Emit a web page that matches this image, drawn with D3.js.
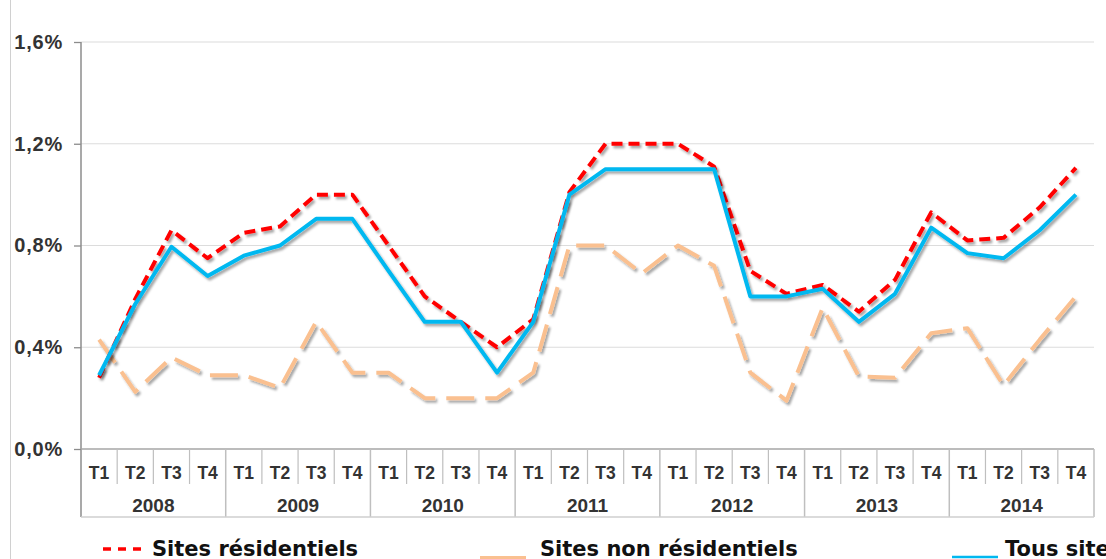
<!DOCTYPE html>
<html>
<head>
<meta charset="utf-8">
<script src="https://cdn.jsdelivr.net/npm/d3@7"></script>
<style>
  body { margin: 0; background: #fff; }
  text { font-family: "Liberation Sans", Arial, sans-serif; font-weight: bold; fill: #333; }
  .legend text { font-family: "DejaVu Sans", Verdana, sans-serif; fill: #111; }
</style>
</head>
<body>
<div id="chart"></div>
<script>
var quarters = ["T1", "T2", "T3", "T4"];
var years = ["2008", "2009", "2010", "2011", "2012", "2013", "2014"];
var yTicks = [0, 0.4, 0.8, 1.2, 1.6];

// values in %
var residentiels = [
  0.28, 0.59, 0.86, 0.75,
  0.85, 0.875, 1.00, 1.00,
  0.80, 0.60, 0.50, 0.40,
  0.51, 1.01, 1.20, 1.20,
  1.20, 1.11, 0.70, 0.61,
  0.645, 0.54, 0.665, 0.93,
  0.82, 0.83, 0.95, 1.105
];
var nonResidentiels = [
  0.43, 0.225, 0.36, 0.29,
  0.29, 0.24, 0.50, 0.30,
  0.30, 0.20, 0.20, 0.20,
  0.30, 0.80, 0.80, 0.69,
  0.80, 0.72, 0.30, 0.19,
  0.555, 0.285, 0.28, 0.455,
  0.475, 0.25, 0.43, 0.60
];
var tousSites = [
  0.29, 0.57, 0.795, 0.68,
  0.76, 0.80, 0.905, 0.905,
  0.70, 0.50, 0.50, 0.30,
  0.50, 1.00, 1.10, 1.10,
  1.10, 1.10, 0.60, 0.60,
  0.63, 0.50, 0.61, 0.87,
  0.77, 0.75, 0.86, 1.00
];

var svgWidth = 1106;
var svgHeight = 559;
var margin = { top: 42, right: 12, bottom: 110, left: 81 };
var width = svgWidth - margin.left - margin.right;
var height = svgHeight - margin.top - margin.bottom;

var svg = d3.select("#chart")
  .append("svg")
  .attr("width", svgWidth)
  .attr("height", svgHeight);

var defs = svg.append("defs");
defs.append("filter")
  .attr("id", "shadow")
  .attr("x", "-5%").attr("y", "-5%")
  .attr("width", "110%").attr("height", "120%")
  .append("feDropShadow")
  .attr("dx", 2).attr("dy", 2.5)
  .attr("stdDeviation", 1.2)
  .attr("flood-color", "#000")
  .attr("flood-opacity", 0.35);

// left border line of the slide
svg.append("line")
  .attr("x1", 10.5).attr("x2", 10.5)
  .attr("y1", 0).attr("y2", svgHeight)
  .attr("stroke", "#d0d0d0");

var chart = svg.append("g")
  .attr("transform", `translate(${margin.left}, ${margin.top})`);

var cats = [];
years.forEach(function(y) {
  quarters.forEach(function(q) { cats.push(y + "-" + q); });
});

var x = d3.scaleBand()
  .domain(cats)
  .range([0, width]);

var y = d3.scaleLinear()
  .domain([0, 1.6])
  .range([height, 0]);

// gridlines
chart.append("g")
  .selectAll("line")
  .data(yTicks.filter(d => d > 0))
  .enter().append("line")
  .attr("x1", 0).attr("x2", width)
  .attr("y1", d => y(d)).attr("y2", d => y(d))
  .attr("stroke", "#dcdcdc")
  .attr("stroke-width", 1.2);

// y axis
var leftAxis = d3.axisLeft(y)
  .tickValues(yTicks)
  .tickSize(7)
  .tickPadding(11)
  .tickFormat(d => d3.format(".1f")(d).replace(".", ",") + "%");

var yAxis = chart.append("g").call(leftAxis);
yAxis.select(".domain").remove();
yAxis.selectAll(".tick line").attr("stroke", "#8c8c8c").attr("stroke-width", 1.3);
yAxis.selectAll(".tick text")
  .attr("font-size", 20)
  .attr("letter-spacing", 0.8)
  .attr("font-family", "Liberation Sans, Arial, sans-serif")
  .attr("font-weight", "bold")
  .attr("fill", "#333");

chart.append("line")
  .attr("x1", 0).attr("x2", 0)
  .attr("y1", 0).attr("y2", height + 68)
  .attr("stroke", "#8c8c8c")
  .attr("stroke-width", 1.5);

// baseline
chart.append("line")
  .attr("x1", 0).attr("x2", width)
  .attr("y1", height).attr("y2", height)
  .attr("stroke", "#a6a6a6")
  .attr("stroke-width", 1.5);

// category table
var tbl = chart.append("g").attr("transform", `translate(0, ${height})`);

tbl.selectAll(".qsep")
  .data(cats.slice(1))
  .enter().append("line")
  .attr("x1", d => x(d)).attr("x2", d => x(d))
  .attr("y1", 0)
  .attr("y2", d => d.endsWith("T1") ? 68 : 35)
  .attr("stroke", "#bfbfbf")
  .attr("stroke-width", d => d.endsWith("T1") ? 1.5 : 1.2);

tbl.append("line")
  .attr("x1", width).attr("x2", width)
  .attr("y1", 0).attr("y2", 68)
  .attr("stroke", "#bfbfbf").attr("stroke-width", 1.5);

tbl.append("line")
  .attr("x1", 0).attr("x2", width)
  .attr("y1", 68).attr("y2", 68)
  .attr("stroke", "#cfcfcf").attr("stroke-width", 1.5);

tbl.selectAll(".qlab")
  .data(cats)
  .enter().append("text")
  .attr("x", d => x(d) + x.bandwidth() / 2)
  .attr("y", 29.5)
  .attr("text-anchor", "middle")
  .attr("font-size", 17.5)
  .text(d => d.split("-")[1]);

tbl.selectAll(".ylab")
  .data(years)
  .enter().append("text")
  .attr("x", d => x(d + "-T1") + x.bandwidth() * 2)
  .attr("y", 63)
  .attr("text-anchor", "middle")
  .attr("font-size", 19)
  .text(d => d);

// series
var line = d3.line()
  .x((d, i) => x(cats[i]) + x.bandwidth() / 2)
  .y(d => y(d));

var series = [
  { name: "Sites non résidentiels", values: nonResidentiels, color: "#fac090", dash: "28,11" },
  { name: "Sites résidentiels", values: residentiels, color: "#ff0000", dash: "11,6" },
  { name: "Tous sites", values: tousSites, color: "#00b8f0", dash: null }
];

series.forEach(function(s) {
  chart.append("path")
    .datum(s.values)
    .attr("d", line)
    .attr("fill", "none")
    .attr("stroke", s.color)
    .attr("stroke-width", 4)
    .attr("stroke-dasharray", s.dash)
    .attr("stroke-linejoin", "round")
    .attr("filter", "url(#shadow)");
});

// legend
var legend = svg.append("g").attr("class", "legend");

var legendItems = [
  { name: "Sites résidentiels", color: "#ff0000", dash: "8,7", x1: 103, x2: 148, ly: 549, tx: 152, sw: 3.5 },
  { name: "Sites non résidentiels", color: "#fac090", dash: null, x1: 480, x2: 526, ly: 557.5, tx: 540, sw: 3 },
  { name: "Tous sites", color: "#00b8f0", dash: null, x1: 952, x2: 998, ly: 557, tx: 1005, sw: 2.5 }
];

legendItems.forEach(function(d) {
  legend.append("line")
    .attr("x1", d.x1).attr("x2", d.x2)
    .attr("y1", d.ly).attr("y2", d.ly)
    .attr("stroke", d.color)
    .attr("stroke-width", d.sw)
    .attr("stroke-dasharray", d.dash);
  legend.append("text")
    .attr("x", d.tx)
    .attr("y", 555.5)
    .attr("font-size", 21)
    .attr("font-weight", "bold")
    .text(d.name);
});
</script>
</body>
</html>
